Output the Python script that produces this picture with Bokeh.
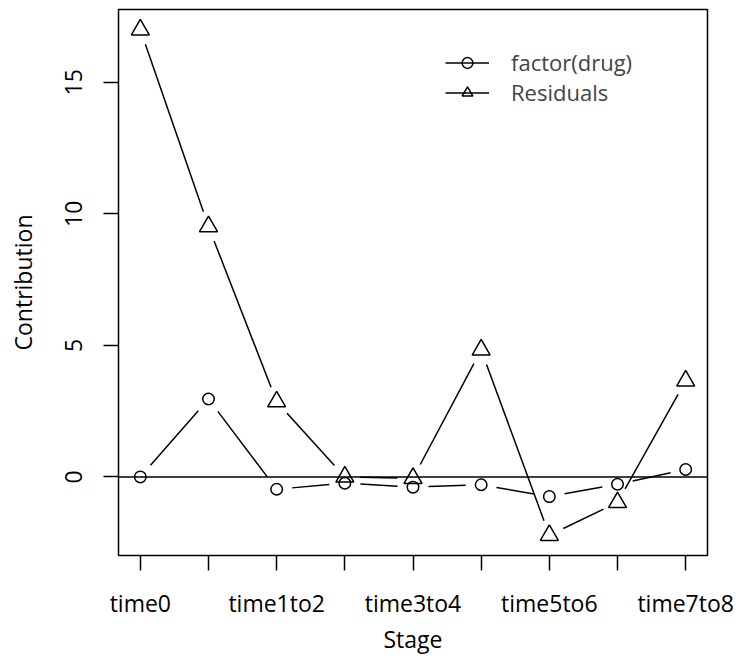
import numpy as np
from bokeh.plotting import figure
from bokeh.models import Range1d, FixedTicker, Span, Legend, LegendItem
from bokeh.embed import file_html
from bokeh.resources import INLINE

# ---- data ----
stages = ["time0", "time0to1", "time1to2", "time2to3", "time3to4",
          "time4to5", "time5to6", "time6to7", "time7to8"]
drug = [0.0, 2.96, -0.47, -0.24, -0.39, -0.30, -0.75, -0.28, 0.28]
resid = [17.0, 9.52, 2.86, 0.0, -0.05, 4.83, -2.22, -0.97, 3.65]
y_ticks = [0, 5, 10, 15]

FONT = "Open Sans"
FS = "23px"

W, H = 736, 658
ML, MR, MT, MB = 118, 29, 9, 103
fw, fh = W - ML - MR, H - MT - MB

xs = np.arange(1, len(stages) + 1, dtype=float)
allv = np.array(drug + resid)
xpad = 0.04 * (xs.max() - xs.min())
ypad = 0.04 * (allv.max() - allv.min())
x0, x1 = xs.min() - xpad, xs.max() + xpad
y0, y1 = allv.min() - ypad, allv.max() + ypad

p = figure(width=W, height=H, output_backend="svg", toolbar_location=None,
           x_range=Range1d(x0, x1), y_range=Range1d(y0, y1),
           min_border_left=ML, min_border_right=MR, min_border_top=MT,
           min_border_bottom=MB)
p.grid.visible = False
p.outline_line_color = "black"
p.outline_line_width = 1.5
p.background_fill_color = "white"
p.border_fill_color = "white"

sx = fw / (x1 - x0)
sy = fh / (y1 - y0)
GAP = 15.5


def gapped(x, y):
    x = np.asarray(x, float)
    y = np.asarray(y, float)
    a0, b0, a1, b1 = [], [], [], []
    for i in range(len(x) - 1):
        dx, dy = x[i + 1] - x[i], y[i + 1] - y[i]
        L = np.hypot(dx * sx, dy * sy)
        if L <= 2 * GAP:
            continue
        f = GAP / L
        a0.append(x[i] + f * dx); b0.append(y[i] + f * dy)
        a1.append(x[i + 1] - f * dx); b1.append(y[i + 1] - f * dy)
    return a0, b0, a1, b1


series = [(drug, "circle", 11.5, "factor(drug)", 478),
          (resid, "triangle", 18, "Residuals", 448)]
for vals, marker, size, name, ly in series:
    a0, b0, a1, b1 = gapped(xs, vals)
    seg = p.segment(a0, b0, a1, b1, line_color="black", line_width=1.5)
    sc = p.scatter(xs, vals, marker=marker, size=size, fill_color=None,
                   line_color="black", line_width=1.5)
    lg = Legend(items=[LegendItem(label=name, renderers=[seg, sc])],
                location=(327, ly), glyph_width=44, glyph_height=27,
                label_height=27, spacing=0, padding=0, margin=0,
                border_line_color=None, background_fill_alpha=0,
                label_standoff=22, label_text_font=FONT,
                label_text_font_size="22px")
    p.add_layout(lg)

p.add_layout(Span(location=0, dimension="width", line_color="black",
                  line_width=1.5))

for ax in (p.xaxis[0], p.yaxis[0]):
    ax.axis_line_color = None
    ax.major_tick_in = 0
    ax.major_tick_out = 15
    ax.major_tick_line_width = 1.5
    ax.minor_tick_line_color = None
    ax.major_label_text_font = FONT
    ax.major_label_text_font_size = FS
    ax.major_label_text_color = "black"
    ax.axis_label_text_font = FONT
    ax.axis_label_text_font_size = FS
    ax.axis_label_text_font_style = "normal"
    ax.axis_label_text_color = "black"

p.xaxis.ticker = FixedTicker(ticks=list(xs))
p.xaxis.major_label_overrides = {float(i + 1): (s if i % 2 == 0 else "")
                                 for i, s in enumerate(stages)}
p.xaxis.major_label_standoff = 16
p.xaxis.axis_label = "Stage"
p.xaxis.axis_label_standoff = 1

p.yaxis.ticker = FixedTicker(ticks=y_ticks)
p.yaxis.major_label_orientation = "vertical"
p.yaxis.major_label_standoff = 21
p.yaxis.axis_label = "Contribution"
p.yaxis.axis_label_standoff = 24

open("out.html", "w").write(file_html(p, INLINE))
